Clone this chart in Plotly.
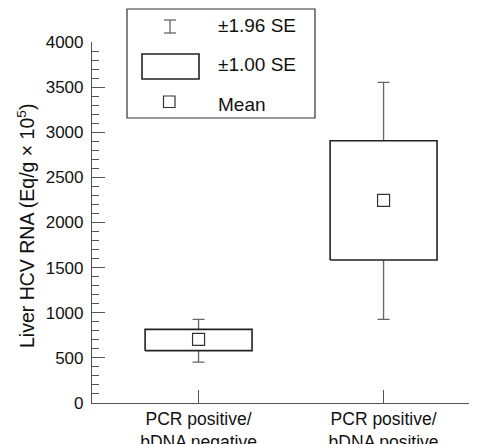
import plotly.graph_objects as go

# ---- data ----
categories = ["PCR positive/<br>bDNA negative", "PCR positive/<br>bDNA positive"]
x_pos = [1, 2]
mean = [705, 2245]
se1_low = [580, 1584]
se1_high = [816, 2906]
se196_low = [454, 927]
se196_high = [927, 3553]

legend_labels = ["\u00b11.96 SE", "\u00b11.00 SE", "Mean"]
y_title = "Liver HCV RNA (Eq/g \u00d7 10<sup>5</sup>)"

# ---- layout geometry (page body adds an 8px margin) ----
OFF = 8
W, H = 477 - OFF, 444 - OFF
ML, MR, MT, MB = 92 - OFF, 0, 42 - OFF, 444 - 403
PW, PH = W - ML - MR, H - MT - MB
FONT = "Liberation Sans, Arial, Helvetica, sans-serif"
FS = 17
FS_BIG = 19.5
BOX_HALF = 0.289

def px2x(px):
    return (px - OFF - ML) / PW

def py2y(py):
    return (H - MB - (py - OFF)) / PH

fig = go.Figure()

# whiskers (+-1.96 SE)
fig.add_trace(go.Scatter(
    x=x_pos, y=mean, mode="markers",
    marker=dict(size=1, color="rgba(0,0,0,0)"),
    error_y=dict(type="data", symmetric=False,
                 array=[h - m for h, m in zip(se196_high, mean)],
                 arrayminus=[m - l for m, l in zip(mean, se196_low)],
                 width=6, thickness=1.3, color="#666666"),
    showlegend=False, hoverinfo="skip"))

# boxes (+-1.00 SE)
bx, by = [], []
for c, lo, hi in zip(x_pos, se1_low, se1_high):
    bx += [c - BOX_HALF, c + BOX_HALF, c + BOX_HALF, c - BOX_HALF, c - BOX_HALF, None]
    by += [lo, lo, hi, hi, lo, None]
fig.add_trace(go.Scatter(
    x=bx, y=by, mode="lines", fill="toself", fillcolor="white",
    line=dict(color="#222222", width=1.6), connectgaps=False,
    showlegend=False, hoverinfo="skip"))

# means
fig.add_trace(go.Scatter(
    x=x_pos, y=mean, mode="markers",
    marker=dict(symbol="square-open", size=12, color="#333333", line=dict(width=1.2)),
    showlegend=False, hoverinfo="skip"))

fig.update_layout(
    template="none",
    width=W, height=H,
    margin=dict(l=ML, r=MR, t=MT, b=MB, pad=0),
    paper_bgcolor="white", plot_bgcolor="white",
    font=dict(family=FONT, size=FS, color="#111111"),
    xaxis=dict(range=[0.424, 2.505], tickvals=x_pos, ticktext=categories,
               ticks="inside", ticklen=13, tickcolor="#555555", tickwidth=1.2,
               tickfont=dict(size=17.5),
               showline=True, linecolor="#555555", linewidth=1.2, automargin=False,
               showgrid=False, zeroline=False, fixedrange=True),
    yaxis=dict(range=[0, 4000], tickvals=[0, 500, 1000, 1500, 2000, 2500, 3000, 3500, 4000],
               ticks="inside", ticklen=13, tickcolor="#555555", tickwidth=1.2,
               minor=dict(ticks="inside", ticklen=7, dtick=100, tickcolor="#555555", tickwidth=1),
               showline=True, linecolor="#555555", linewidth=1.2, automargin=False,
               showgrid=False, zeroline=False, fixedrange=True,
               ticklabelstandoff=4),
)

# y title
fig.add_annotation(x=px2x(26), y=py2y(226), xref="paper", yref="paper",
                   xanchor="center", yanchor="middle",
                   text=y_title, textangle=-90, showarrow=False,
                   font=dict(family=FONT, size=FS_BIG, color="#111111"))

# manual legend
shapes = []
shapes.append(dict(type="rect", xref="paper", yref="paper",
                   x0=px2x(127), x1=px2x(315), y0=py2y(118), y1=py2y(9),
                   line=dict(color="#333333", width=1.2), fillcolor="white", layer="above"))
# errorbar icon
ix, iy0, iy1 = 170, 20, 33
shapes += [
    dict(type="line", xref="paper", yref="paper", x0=px2x(ix), x1=px2x(ix), y0=py2y(iy0), y1=py2y(iy1),
         line=dict(color="#666666", width=1.3), layer="above"),
    dict(type="line", xref="paper", yref="paper", x0=px2x(ix - 6), x1=px2x(ix + 6), y0=py2y(iy0), y1=py2y(iy0),
         line=dict(color="#666666", width=1.3), layer="above"),
    dict(type="line", xref="paper", yref="paper", x0=px2x(ix - 6), x1=px2x(ix + 6), y0=py2y(iy1), y1=py2y(iy1),
         line=dict(color="#666666", width=1.3), layer="above"),
]
# box icon
shapes.append(dict(type="rect", xref="paper", yref="paper",
                   x0=px2x(142), x1=px2x(199), y0=py2y(79), y1=py2y(54),
                   line=dict(color="#222222", width=1.6), fillcolor="white", layer="above"))
# mean icon
shapes.append(dict(type="rect", xref="paper", yref="paper",
                   x0=px2x(163.5), x1=px2x(175), y0=py2y(107.5), y1=py2y(96),
                   line=dict(color="#333333", width=1.2), fillcolor="white", layer="above"))
fig.update_layout(shapes=shapes)

for lbl, cy in zip(legend_labels, [26, 65, 104]):
    fig.add_annotation(x=px2x(216), y=py2y(cy), xref="paper", yref="paper",
                       text=lbl, showarrow=False, xanchor="left", yanchor="middle",
                       font=dict(family=FONT, size=FS_BIG - 0.5, color="#111111"))

fig.write_html("out.html")
